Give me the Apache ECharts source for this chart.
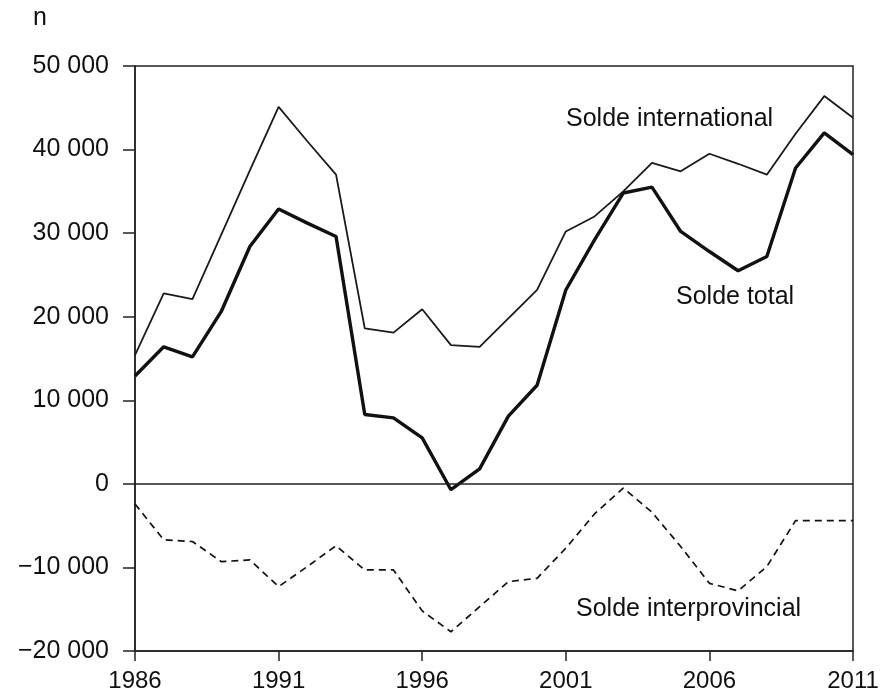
<!DOCTYPE html>
<html>
<head>
<meta charset="utf-8">
<script src="https://cdn.jsdelivr.net/npm/echarts@6/dist/echarts.min.js"></script>
<style>
  html, body { margin: 0; padding: 0; background: #fff; }
  #main { width: 885px; height: 695px; }
</style>
</head>
<body>
<div id="main"></div>
<script>
// années
var years = [1986,1987,1988,1989,1990,1991,1992,1993,1994,1995,1996,1997,1998,
  1999,2000,2001,2002,2003,2004,2005,2006,2007,2008,2009,2010,2011];
// solde international
var soldeInternational = [15400,22800,22100,29800,37500,45100,41000,37000,18600,18100,20900,16600,16400,
  19800,23200,30200,32000,35000,38400,37400,39500,38300,37000,41900,46400,43800];
// solde total
var soldeTotal = [12900,16400,15200,20600,28400,32900,31200,29600,8300,7900,5500,-700,1800,
  8100,11800,23200,29200,34800,35500,30200,27800,25500,27200,37800,42000,39400];
// solde interprovincial
var soldeInterprovincial = [-2400,-6700,-6900,-9300,-9100,-12300,-9900,-7400,-10300,-10300,-15200,-17700,-14700,
  -11700,-11300,-7700,-3600,-500,-3400,-7500,-11900,-12800,-9900,-4400,-4400,-4400];
var xTicks = [1986,1991,1996,2001,2006,2011];

var myChart = echarts.init(document.getElementById('main'));

function fmt(v) {
  var s = String(Math.abs(v)).replace(/\B(?=(\d{3})+(?!\d))/g, ' ');
  return (v < 0 ? '\u2212' : '') + s;
}
function pairs(arr) {
  return years.map(function (y, i) { return [y, arr[i]]; });
}

var ff = 'Liberation Sans, Arial, sans-serif';
var font = '25px ' + ff;

var option = {
  animation: false,
  grid: {
    left: 135, right: 32, top: 66, bottom: 44,
    show: true, borderColor: '#222', borderWidth: 1.5
  },
  xAxis: {
    type: 'value',
    min: 1986, max: 2011, interval: 1,
    axisLine: { onZero: false, lineStyle: { color: '#222', width: 1.5 } },
    axisTick: {
      length: 10, lineStyle: { color: '#222', width: 1.5 },
      customValues: xTicks
    },
    axisLabel: { margin: 18, customValues: xTicks, fontFamily: ff, fontSize: 24, color: '#111',
      formatter: function (v) { return String(v); } },
    splitLine: { show: false }
  },
  yAxis: {
    type: 'value',
    min: -20000, max: 50000, interval: 10000,
    axisLine: { show: true, lineStyle: { color: '#222', width: 1.5 } },
    axisTick: { show: true, length: 12, lineStyle: { color: '#222', width: 1.5 } },
    axisLabel: { margin: 26, formatter: fmt, fontFamily: ff, fontSize: 25, color: '#111' },
    splitLine: { show: false }
  },
  series: [
    {
      name: 'Solde international',
      type: 'line',
      data: pairs(soldeInternational),
      showSymbol: false,
      lineStyle: { color: '#1a1a1a', width: 1.8 },
      markLine: {
        silent: true, symbol: 'none', label: { show: false },
        lineStyle: { color: '#222', width: 1.5, type: 'solid' },
        data: [{ yAxis: 0 }]
      }
    },
    {
      name: 'Solde total',
      type: 'line',
      data: pairs(soldeTotal),
      showSymbol: false,
      lineStyle: { color: '#111', width: 3.4 }
    },
    {
      name: 'Solde interprovincial',
      type: 'line',
      data: pairs(soldeInterprovincial),
      showSymbol: false,
      lineStyle: { color: '#111', width: 1.7, type: [7, 5] }
    }
  ],
  graphic: [
    { type: 'text', left: 33, top: 6, style: { text: 'n', fill: '#111', font: font } },
    { type: 'text', left: 566, top: 107, style: { text: 'Solde international', fill: '#111', font: font } },
    { type: 'text', left: 676, top: 285, style: { text: 'Solde total', fill: '#111', font: font } },
    { type: 'text', left: 576, top: 597, style: { text: 'Solde interprovincial', fill: '#111', font: font } }
  ]
};

myChart.setOption(option);
</script>
</body>
</html>
